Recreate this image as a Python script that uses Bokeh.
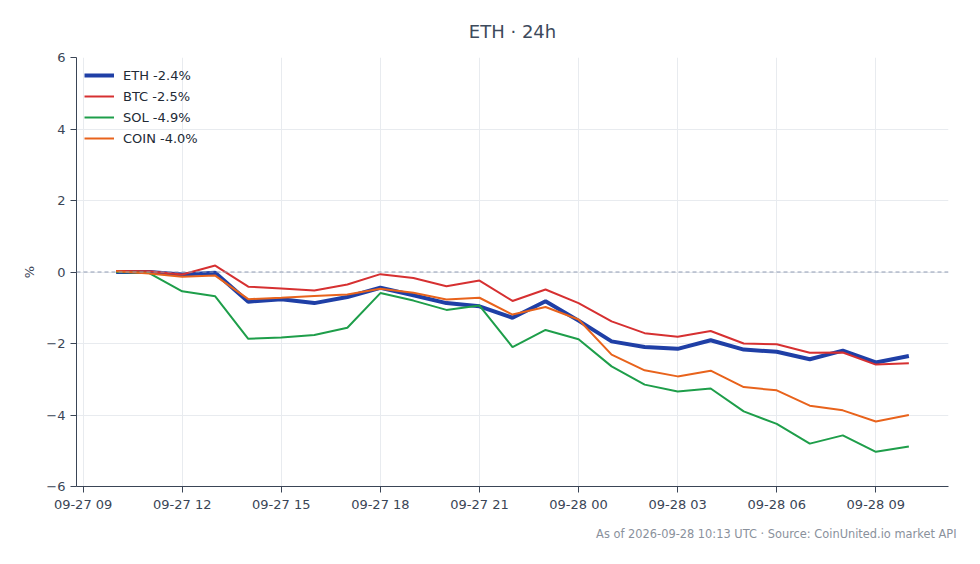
import pandas as pd
from bokeh.plotting import figure
from bokeh.models import (ColumnDataSource, Range1d, SingleIntervalTicker, DatetimeTickFormatter,
                          Span, Legend, LegendItem, Title)
from bokeh.embed import file_html
from bokeh.resources import INLINE

# ---- data ----
start = "2026-09-27 10:00"
n_points = 25
eth = [0.0, 0.0, -0.07, -0.02, -0.83, -0.76, -0.87, -0.70, -0.44, -0.65, -0.87, -0.96, -1.28, -0.82,
       -1.36, -1.94, -2.10, -2.15, -1.91, -2.17, -2.23, -2.44, -2.20, -2.53, -2.35]
btc = [0.03, 0.02, -0.07, 0.18, -0.41, -0.46, -0.52, -0.35, -0.06, -0.17, -0.40, -0.24, -0.81, -0.49,
       -0.87, -1.38, -1.71, -1.81, -1.65, -2.00, -2.02, -2.26, -2.25, -2.59, -2.55]
sol = [0.0, -0.03, -0.54, -0.68, -1.87, -1.83, -1.76, -1.56, -0.59, -0.80, -1.06, -0.94, -2.10, -1.62,
       -1.88, -2.64, -3.15, -3.34, -3.26, -3.90, -4.25, -4.80, -4.57, -5.03, -4.88]
coin = [0.02, -0.04, -0.13, -0.10, -0.76, -0.72, -0.67, -0.63, -0.47, -0.58, -0.77, -0.72, -1.19, -0.98,
        -1.33, -2.31, -2.75, -2.92, -2.76, -3.22, -3.31, -3.74, -3.87, -4.18, -4.00]
names = ["ETH", "BTC", "SOL", "COIN"]
changes = ["-2.4%", "-2.5%", "-4.9%", "-4.0%"]
colors = ["#1f3fa6", "#d63031", "#1e9e4a", "#e8631c"]
widths = [4, 2, 2, 2]
title_text = "ETH · 24h"
footer_text = "As of 2026-09-28 10:13 UTC · Source: CoinUnited.io market API"

times = pd.date_range(start, periods=n_points, freq="h")
src = ColumnDataSource(dict(t=times, ETH=eth, BTC=btc, SOL=sol, COIN=coin))

FONT = "DejaVu Sans"
AX = "#3a4556"

p = figure(width=958, height=550, x_axis_type="datetime", y_range=Range1d(-6, 6),
           output_backend="svg", toolbar_location=None,
           min_border_left=76, min_border_right=10, min_border_top=57, min_border_bottom=10)
p.title.text = title_text
p.title.align = "center"
p.title.text_font = FONT
p.title.text_font_size = "18px"
p.title.text_font_style = "normal"
p.title.text_color = "#3d4a5c"
p.title.standoff = 32

p.outline_line_color = None
p.background_fill_color = "white"
p.border_fill_color = "white"

p.xaxis.ticker = SingleIntervalTicker(interval=3 * 3600 * 1000, num_minor_ticks=0)
p.xaxis.formatter = DatetimeTickFormatter(hours="%m-%d %H", days="%m-%d %H", hourmin="%m-%d %H",
                                          minutes="%m-%d %H")
p.yaxis.ticker = SingleIntervalTicker(interval=2, num_minor_ticks=0)
p.yaxis.axis_label = "%"

for ax in (p.xaxis, p.yaxis):
    ax.axis_line_color = AX
    ax.major_tick_line_color = AX
    ax.minor_tick_line_color = None
    ax.major_tick_out = 6
    ax.major_tick_in = 0
    ax.major_label_text_font = FONT
    ax.major_label_text_font_size = "13px"
    ax.major_label_text_color = AX
    ax.axis_label_text_font = FONT
    ax.axis_label_text_font_size = "13px"
    ax.axis_label_text_font_style = "normal"
    ax.axis_label_text_color = AX
    ax.major_label_standoff = 5
p.xaxis.major_label_standoff = 4
p.yaxis.axis_label_standoff = 6

p.grid.grid_line_color = "#e8ebef"
p.grid.grid_line_width = 1

p.add_layout(Span(location=0, dimension="width", line_color="#8f9bb3", line_width=1,
                  line_dash="4 3"))

items = []
for name, ch, col, w in zip(names, changes, colors, widths):
    r = p.line("t", name, source=src, line_color=col, line_width=w)
    items.append(LegendItem(label=f"{name} {ch}", renderers=[r]))

legend = Legend(items=items, location="top_left", border_line_color=None,
                background_fill_alpha=0.0, label_text_font=FONT, label_text_font_size="13px",
                label_text_color="#222a35", margin=8, padding=10, spacing=1,
                glyph_width=30, glyph_height=20, label_height=20, label_standoff=9)
p.add_layout(legend)

footer = Title(text=footer_text, align="right", text_font=FONT, text_font_size="11.4px",
               text_font_style="normal", text_color="#8a919c", standoff=20, offset=-8)
p.add_layout(footer, "below")

open("out.html", "w").write(file_html(p, INLINE))
